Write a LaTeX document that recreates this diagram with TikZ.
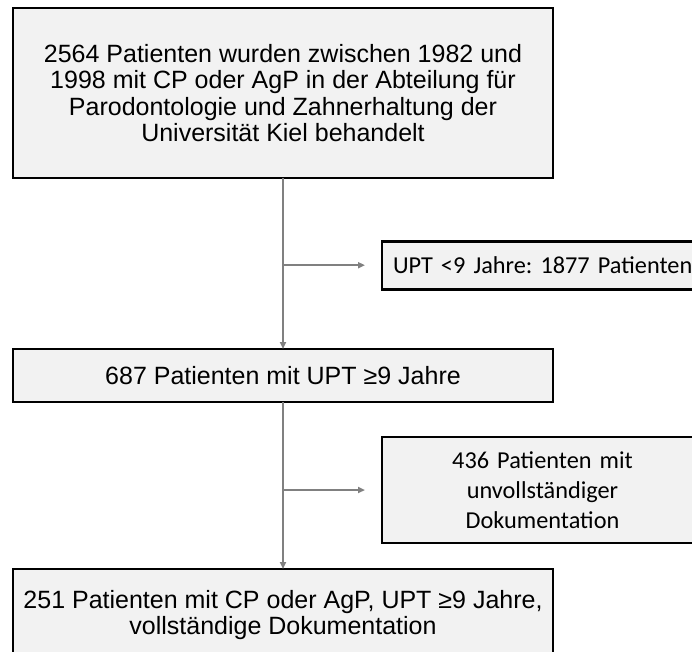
\documentclass[tikz,border=0pt]{standalone}
\usepackage{fontspec}
\setmainfont{Liberation Sans}
\newfontfamily\calibrifont{Carlito}
\usetikzlibrary{positioning, arrows.meta, calc}
\definecolor{boxfill}{RGB}{242,242,242}
\definecolor{linegray}{RGB}{128,128,128}
\frenchspacing

\begin{document}
\begin{tikzpicture}[
      mainbox/.style={rectangle, draw=black, line width=2.6pt, fill=boxfill,
        minimum width=540pt, align=center, inner sep=0pt, outer sep=0pt,
        font=\fontsize{25}{26.6}\selectfont},
      sidebox/.style={rectangle, draw=black, line width=2.6pt, fill=boxfill,
        inner xsep=11pt, inner ysep=0pt, outer sep=0pt, anchor=west,
        text width=340pt, align=left,
        font=\calibrifont\fontsize{24.3}{30}\selectfont},
      flow/.style={draw=linegray, line width=2pt,
        -{Triangle[length=7pt,width=6pt]}},
      branch/.style={flow, shorten >=17pt}
    ]
      \useasboundingbox (0,0) rectangle (692pt,-651pt);
      \clip (0,0) rectangle (692pt,-651pt);

      % Main column
      \node[mainbox, minimum height=170pt] (cohort) at (283pt,-93pt)
        {2564 Patienten wurden zwischen 1982 und\\
         1998 mit CP oder AgP in der Abteilung für\\
         Parodontologie und Zahnerhaltung der\\
         Universität Kiel behandelt};
      \node[mainbox, minimum height=53pt, below=171pt of cohort] (longupt)
        {687 Patienten mit UPT ≥9 Jahre};
      \node[mainbox, minimum height=92pt, below=167pt of longupt] (final)
        {251 Patienten mit CP oder AgP, UPT ≥9 Jahre,\\
         vollständige Dokumentation};

      % Branch points
      \coordinate (split1) at ($(cohort.south)!0.51!(longupt.north)$);
      \coordinate (split2) at ($(longupt.south)!0.527!(final.north)$);

      % Excluded
      \node[sidebox, minimum height=48pt, right=99pt of split1] (shortupt)
        {UPT <9 Jahre: 1877 Patienten};
      \node[sidebox, minimum height=106pt, right=99pt of split2] (incomplete)
        {\parbox{299pt}{\centering 436 Patienten mit\\ unvollständiger\\
         Dokumentation}};

      % Connections
      \draw[flow] (cohort) -- (longupt);
      \draw[flow] (longupt) -- (final);
      \draw[branch] (split1) -- (shortupt);
      \draw[branch] (split2) -- (incomplete);
    \end{tikzpicture}
\end{document}
